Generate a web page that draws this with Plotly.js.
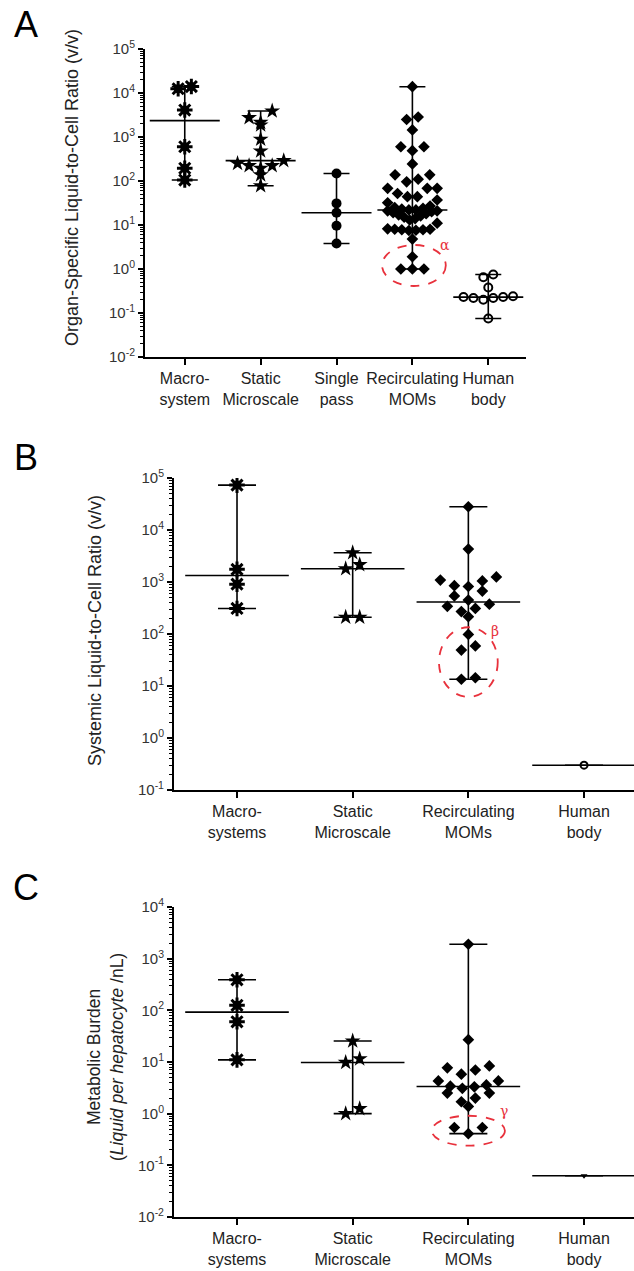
<!DOCTYPE html>
<html><head><meta charset="utf-8">
<script src="https://cdn.plot.ly/plotly-3.0.1.min.js"></script>
<style>html,body{margin:0;padding:0;background:#fff}</style>
</head><body><div id="chart" style="width:634px;height:1271px"></div>
<script>
// ---------------- DATA ----------------
const catsA  = ['Macro-<br>system', 'Static<br>Microscale', 'Single<br>pass', 'Recirculating<br>MOMs', 'Human<br>body'];
const catsBC = ['Macro-<br>systems', 'Static<br>Microscale', 'Recirculating<br>MOMs', 'Human<br>body'];

// Panel A: organ-specific liquid-to-cell ratio (v/v)
const A_macro  = [14000, 12500, 4100, 600, 195, 105];
const A_static = [3900, 2750, 2150, 1870, 890, 480, 290, 250, 223, 223, 195, 138, 78];
const A_single = [148, 31, 19, 9.6, 3.8];
const A_recirc = [13900, 2850, 2500, 1450, 600, 600, 490, 245, 138, 138,
                  110, 96, 68, 68, 68, 52, 44, 44, 37, 32,
                  27, 25, 24, 23, 22, 22, 21, 21, 20, 19,
                  18, 17, 16, 15, 14, 13, 11, 8.2, 8, 8,
                  7.8, 7.8, 7.6, 7.5, 4.8, 1.9, 1.0, 1.0, 1.0];
const A_human  = [0.75, 0.65, 0.38, 0.24, 0.23, 0.23, 0.22, 0.22, 0.20, 0.075];

// Panel B: systemic liquid-to-cell ratio (v/v)
const B_macro  = [73000, 1750, 910, 310];
const B_static = [3650, 2150, 1800, 210, 210];
const B_recirc = [28000, 4300, 1250, 1090, 1050, 850, 820, 670, 540, 450,
                  375, 340, 310, 270, 215, 98, 59, 49, 14.4, 13.5];
const B_human  = [0.3];

// Panel C: metabolic burden (liquid per hepatocyte, nL)
const C_macro  = [390, 125, 60, 11];
const C_static = [25.5, 11.5, 9.8, 1.25, 1.0];
const C_recirc = [1900, 27, 8.4, 7.7, 7.0, 5.8, 4.3, 4.3, 3.6, 3.4,
                  3.3, 3.1, 2.5, 2.5, 2.0, 1.7, 1.38, 0.54, 0.54, 0.41];
const C_human  = [0.063];

// decade exponents shown on the y axes
const expA = [-2, -1, 0, 1, 2, 3, 4, 5];
const expB = [-1, 0, 1, 2, 3, 4, 5];
const expC = [-2, -1, 0, 1, 2, 3, 4];

// ---------------- STYLE / LAYOUT ----------------
const W = 634, H = 1271;
const NARROW = 'Liberation Sans Narrow, Arial Narrow, Liberation Sans, Arial, sans-serif';
const FONT = 'Liberation Sans, Arial, sans-serif';
const panels = [
  {xa:'x',  ya:'y',  dom:[0.2287,0.830], ydom:[0.71912,0.96145], xr:[-0.524,4.50], exps:expA,
   sq:0.825, font:NARROW, medHalf:25, cap:13, groups:[
     {vals:A_macro, st:'macro'}, {vals:A_static, st:'star'}, {vals:A_single, st:'dot'},
     {vals:A_recirc, st:'diamond'}, {vals:A_human, st:'ring'}]},
  {xa:'x2', ya:'y2', dom:[0.2744,1], ydom:[0.37844,0.62392], xr:[-0.545,3.432], exps:expB,
   sq:1, font:FONT, medHalf:37, cap:19, groups:[
     {vals:B_macro, st:'macro'}, {vals:B_static, st:'star'},
     {vals:B_recirc, st:'diamond'}, {vals:B_human, st:'ring2'}]},
  {xa:'x3', ya:'y3', dom:[0.2744,1], ydom:[0.04249,0.28639], xr:[-0.545,3.432], exps:expC,
   sq:1, font:FONT, medHalf:37, cap:19, groups:[
     {vals:C_macro, st:'macro'}, {vals:C_static, st:'star'},
     {vals:C_recirc, st:'diamond'}, {vals:C_human, st:'tri'}]}
];
const styles = {
  macro:   {size:13, d:16, layers:[{symbol:'circle', size:9, color:'#000'},
                                   {symbol:'asterisk-open', size:13, color:'#000', line:{color:'#000', width:3}}]},
  star:    {size:12, d:14, layers:[{symbol:'star', size:12, color:'#000'}]},
  dot:     {size:10, d:12, layers:[{symbol:'circle', size:10, color:'#000'}]},
  diamond: {size:10, d:14, layers:[{symbol:'diamond', size:9, color:'#000'}]},
  ring:    {size:9,  d:12, layers:[{symbol:'circle-open', size:8, color:'#000', line:{color:'#000', width:2}}]},
  ring2:   {size:8,  d:12, layers:[{symbol:'circle-open', size:7, color:'#000', line:{color:'#000', width:2}}]},
  tri:     {size:6,  d:10, layers:[{symbol:'triangle-down', size:6, color:'#000'}]}
};

function median(a){ const s=a.slice().sort((p,q)=>p-q), n=s.length;
  return n%2 ? s[(n-1)/2] : (s[n/2-1]+s[n/2])/2; }

// row-binned symmetric swarm (like a scatter dot plot), offsets in px
function swarm(vals, pxPerDec, size, dBase, maxHalf){
  const items = vals.map((v,i)=>({v, i, py:-Math.log10(v)*pxPerDec}));
  items.sort((a,b)=>a.py-b.py);
  const bins=[]; let cur=null;
  items.forEach(it=>{
    if(cur && it.py-cur.start<=size && it.py-cur.last<=0.8*size){ cur.items.push(it); cur.last=it.py; }
    else { cur={start:it.py,last:it.py,items:[it]}; bins.push(cur); }
  });
  const off=new Array(vals.length).fill(0);
  bins.forEach(b=>{
    const n=b.items.length; if(n<2) return;
    const d=Math.min(dBase, 2*maxHalf/(n-1));
    const ord=b.items.slice().sort((p,q)=>p.v-q.v);
    const slots=[];
    if(n%2){ slots.push(0); for(let k=1;slots.length<n;k++){ slots.push(-k); if(slots.length<n) slots.push(k);} }
    else { for(let k=0;slots.length<n;k++){ slots.push(-(k+0.5)); if(slots.length<n) slots.push(k+0.5);} }
    ord.forEach((it,j)=>{ off[it.i]=slots[j]*d; });
  });
  return off;
}

const traces=[];
panels.forEach(p=>{
  const pxPerX = W*(p.dom[1]-p.dom[0])/(p.xr[1]-p.xr[0]);
  const yr=[p.exps[0], p.exps[p.exps.length-1]];
  const pxPerDec = H*(p.ydom[1]-p.ydom[0])/(yr[1]-yr[0]);
  const idx=p.groups.map((g,i)=>i);
  const med=p.groups.map(g=>median(g.vals));
  // summary: median line + range bars
  traces.push({type:'scatter', mode:'markers', xaxis:p.xa, yaxis:p.ya, hoverinfo:'skip', showlegend:false,
    x:idx, y:med,
    marker:{symbol:'line-ew-open', size:2*p.medHalf, color:'#000', line:{color:'#000', width:1.6}},
    error_y:{type:'data', symmetric:false,
      array:p.groups.map((g,i)=>Math.max(...g.vals)-med[i]),
      arrayminus:p.groups.map((g,i)=>med[i]-Math.min(...g.vals)),
      width:p.cap, thickness:1.6, color:'#000'}});
  p.groups.forEach((g,gi)=>{
    const s=styles[g.st];
    const off=swarm(g.vals, pxPerDec, s.size, s.d*p.sq, 30*p.sq);
    const xs=g.vals.map((v,i)=>gi+off[i]/pxPerX);
    s.layers.forEach(L=>{
      traces.push({type:'scatter', mode:'markers', xaxis:p.xa, yaxis:p.ya, showlegend:false,
        x:xs, y:g.vals, marker:Object.assign({}, L)});
    });
  });
});

function minorVals(exps){ const out=[]; for(let e=exps[0]; e<exps[exps.length-1]; e++){ for(let k=2;k<=9;k++) out.push(k*Math.pow(10,e)); } return out; }
function supText(e){ return '10<sup>'+e+'</sup>'; }

const layout={width:W, height:H, margin:{l:0,r:0,t:0,b:0}, paper_bgcolor:'#fff', plot_bgcolor:'rgba(0,0,0,0)',
  font:{family:FONT, color:'#222'}, showlegend:false, shapes:[], annotations:[]};
panels.forEach((p,k)=>{
  const sx=k?String(k+1):'', cats = k? catsBC : catsA;
  layout['xaxis'+sx]={domain:p.dom, range:p.xr, anchor:p.ya, showgrid:false, zeroline:false,
    showline:true, linecolor:'#000', linewidth:2, ticks:'outside', ticklen:6, tickwidth:2, tickcolor:'#000',
    tickmode:'array', tickvals:cats.map((c,i)=>i), ticktext:cats, tickfont:{size:16, color:'#222', family:p.font}};
  layout['yaxis'+sx]={domain:p.ydom, type:'log', range:[p.exps[0], p.exps[p.exps.length-1]], anchor:p.xa,
    showgrid:false, zeroline:false, showline:true, linecolor:'#000', linewidth:2,
    ticks:'outside', ticklen:5, tickwidth:2, tickcolor:'#000',
    tickmode:'array', tickvals:p.exps.map(e=>Math.pow(10,e)), ticktext:p.exps.map(supText),
    tickfont:{size:15, color:'#333', family:p.font},
    minor:{tickmode:'array', tickvals:minorVals(p.exps), ticks:'outside', ticklen:3, tickwidth:1, tickcolor:'#000'}};
});

// axis titles (rotated text)
layout.annotations.push(
  {xref:'paper', yref:'paper', x:72/W, y:1-188/H, text:'Organ-Specific Liquid-to-Cell Ratio (v/v)', textangle:-90, showarrow:false, xanchor:'center', yanchor:'middle', font:{size:18, color:'#222', family:FONT}},
  {xref:'paper', yref:'paper', x:95/W, y:1-631/H, text:'Systemic Liquid-to-Cell Ratio (v/v)', textangle:-90, showarrow:false, xanchor:'center', yanchor:'middle', font:{size:18, color:'#222', family:FONT}},
  {xref:'paper', yref:'paper', x:105/W, y:1-1057/H, text:'Metabolic Burden<br>(<i>Liquid per hepatocyte</i> /nL)', textangle:-90, showarrow:false, xanchor:'center', yanchor:'middle', font:{size:17.5, color:'#222', family:FONT}}
);
// panel letters
[['A',25],['B',457],['C',887]].forEach(([t,y])=>layout.annotations.push(
  {xref:'paper', yref:'paper', x:26/W, y:1-y/H, text:t, showarrow:false, xanchor:'center', yanchor:'middle', font:{size:36, color:'#000', family:FONT}}));

// red dashed ellipses marking outliers (centre: category index, log10 value; half sizes)
const rings=[
  {p:0, cx:3.02, cl:0.08,  rx:0.42,  rl:0.466, lab:'\u03b1', lx:3.43, ll:0.55},
  {p:1, cx:2.0,  cl:1.46,  rx:0.254, rl:0.67,  lab:'\u03b2', lx:2.23, ll:2.06},
  {p:2, cx:2.0,  cl:-0.33, rx:0.316, rl:0.29,  lab:'\u03b3', lx:2.31, ll:0.06}
];
rings.forEach(r=>{
  const p=panels[r.p], lo=p.exps[0], hi=p.exps[p.exps.length-1];
  const f=v=>(v-lo)/(hi-lo);
  layout.shapes.push({type:'circle', xref:p.xa, yref:p.ya+' domain', x0:r.cx-r.rx, x1:r.cx+r.rx,
    y0:f(r.cl-r.rl), y1:f(r.cl+r.rl), line:{color:'#e8313c', width:1.8, dash:'dash'}});
  layout.annotations.push({xref:p.xa, yref:p.ya, x:r.lx, y:r.ll, text:r.lab, showarrow:false,
    font:{size:14, color:'#e8313c', family:'DejaVu Serif, serif'}});
});

Plotly.newPlot('chart', traces, layout, {displayModeBar:false, staticPlot:true});
</script></body></html>
